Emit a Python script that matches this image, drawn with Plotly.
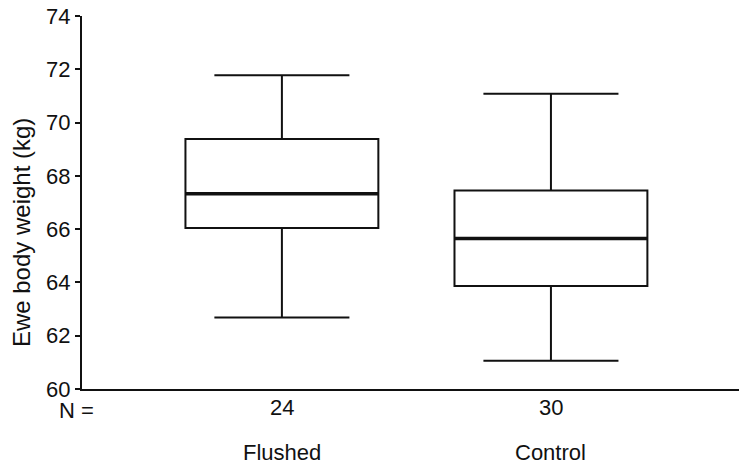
import plotly.graph_objects as go

groups = ["Flushed", "Control"]
counts = ["24", "30"]
q1 = [66.04, 63.87]
median = [67.33, 65.65]
q3 = [69.38, 67.45]
lower = [62.68, 61.06]
upper = [71.78, 71.08]
yticks = [60, 62, 64, 66, 68, 70, 72, 74]

FONT = "Liberation Sans, Arial, sans-serif"
BOXW = 0.717
PW = 657.0  # plot area width in px

fig = go.Figure()
for i, g in enumerate(groups):
    fig.add_trace(go.Box(
        x=[i], q1=[q1[i]], median=[median[i]], q3=[q3[i]],
        lowerfence=[lower[i]], upperfence=[upper[i]],
        width=BOXW, whiskerwidth=0.70,
        line=dict(color="#111111", width=2),
        fillcolor="white", boxpoints=False, showlegend=False,
        hoverinfo="skip",
    ))
    fig.add_shape(type="line", xref="x", yref="y",
                  x0=i - BOXW / 2, x1=i + BOXW / 2, y0=median[i], y1=median[i],
                  line=dict(color="#111111", width=3.5))
    fig.add_annotation(x=i, y=0, xref="x", yref="paper", text=counts[i],
                       showarrow=False, yanchor="top", yshift=-4,
                       font=dict(family=FONT, size=22, color="#111111"))
    fig.add_annotation(x=i, y=0, xref="x", yref="paper", text=g,
                       showarrow=False, yanchor="top", yshift=-49,
                       font=dict(family=FONT, size=22, color="#111111"))

fig.add_annotation(x=-25 / PW, y=0, xref="paper", yref="paper", text="N =",
                   showarrow=False, yanchor="top", xanchor="left", yshift=-7,
                   font=dict(family=FONT, size=22, color="#111111"))
fig.add_annotation(x=-61 / PW, y=0.418, xref="paper", yref="paper",
                   text="Ewe body weight (kg)", textangle=-90,
                   showarrow=False, xanchor="center", yanchor="middle",
                   font=dict(family=FONT, size=24, color="#111111"))

fig.update_layout(
    width=739, height=466,
    margin=dict(l=82, r=0, t=16, b=77),
    paper_bgcolor="white", plot_bgcolor="white",
    font=dict(family=FONT, size=22, color="#111111"),
    xaxis=dict(range=[-0.743, 1.699], showticklabels=False, ticks="",
               showgrid=False, zeroline=False, showline=True,
               linecolor="#111111", linewidth=2),
    yaxis=dict(range=[60, 74], tickvals=yticks, ticks="outside", ticklen=5,
               tickwidth=2, tickcolor="#111111", showgrid=False, zeroline=False,
               showline=True, linecolor="#111111", linewidth=2,
               tickfont=dict(family=FONT, size=22, color="#111111")),
)

# remove the page's default 8px body margin so the figure fills the window
fig.write_html("out.html",
               config={"displayModeBar": False, "staticPlot": True},
               post_script="document.body.style.margin='0';"
                           "document.body.style.overflow='hidden';")
